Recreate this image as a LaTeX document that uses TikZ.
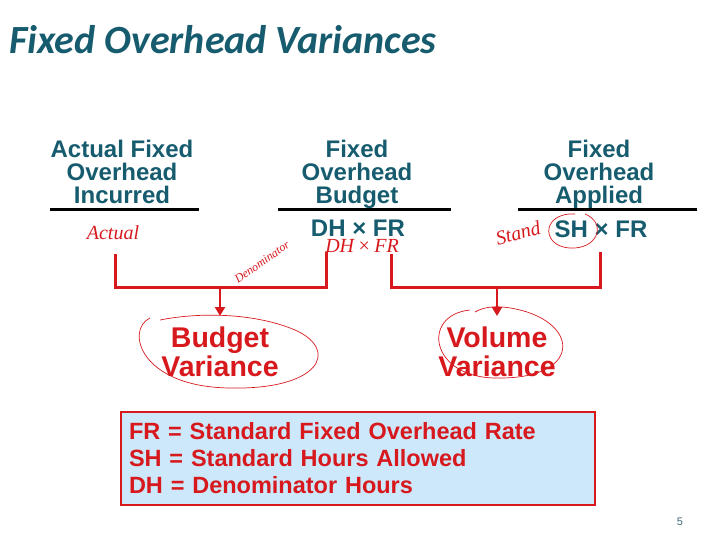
\documentclass[tikz,border=0pt]{standalone}
\usepackage{fontspec}
\setmainfont{Liberation Sans}
\newfontfamily\titlefont{Carlito}
\newfontfamily\handfont{Liberation Serif}
\usetikzlibrary{arrows.meta}
\definecolor{teal1}{RGB}{22,92,110}
\definecolor{redA}{RGB}{215,25,30}
\definecolor{boxblue}{RGB}{204,232,250}
\begin{document}
\begin{tikzpicture}[x=1pt,y=-1pt,
  head/.style={text=teal1, font=\bfseries\fontsize{24}{23}\selectfont, align=center, inner sep=0},
  rulebar/.style={line width=3pt},
  redline/.style={draw=redA, line width=3pt},
  redarrow/.style={draw=redA, line width=2.5pt, -{Triangle[length=9pt,width=10pt]}},
  varlabel/.style={text=redA, font=\bfseries\fontsize{28.5}{29.5}\selectfont, align=center, inner sep=0},
  scrib/.style={draw=redA, line width=0.7pt},
  hand/.style={text=redA, font=\handfont\itshape\fontsize{20}{20}\selectfont, inner sep=0}]
\useasboundingbox (0,0) rectangle (720,540);
% title
\node[anchor=base west, text=teal1, font=\titlefont\bfseries\itshape\fontsize{40}{40}\selectfont, inner sep=0] (title) at (9,54) {Fixed Overhead Variances};
% column headings
\node[head, anchor=north] (c1) at (122,139.5) {Actual Fixed\\Overhead\\Incurred};
\node[head, anchor=north] (c2) at (357,139.5) {Fixed\\Overhead\\Budget};
\node[head, anchor=north] (c3) at (599,139.5) {Fixed\\Overhead\\Applied};
\draw[rulebar] (50,210) -- (199,210);
\draw[rulebar] (278,210) -- (451,210);
\draw[rulebar] (518,210) -- (697,210);
\node[head] (f2) at (358,228) {DH × FR};
\node[head] (f3) at (601,229) {SH × FR};
% brackets
\coordinate (a1) at (115,254);
\coordinate (a2) at (326,252);
\coordinate (b1) at (391,254);
\coordinate (b2) at (600,252);
\coordinate (ja) at (220,287);
\coordinate (jb) at (497,287);
\coordinate (ea) at (220,316);
\coordinate (eb) at (497,316);
\draw[redline] (a1) |- (ja) -| (a2);
\draw[redline] (b1) |- (jb) -| (b2);
% variance labels
\node[varlabel] (bv) at (220,352) {Budget\\Variance};
\node[varlabel] (vv) at (497,352) {Volume\\Variance};
\draw[redarrow] (ja) -- (ea);
\draw[redarrow] (jb) -- (eb);
% legend box
\node[draw=redA, line width=2pt, fill=boxblue, anchor=north west, text width=458pt, inner xsep=8pt, minimum height=93pt, align=left, text=redA, font=\bfseries\fontsize{23.5}{27}\selectfont] (legend) at (120,411) {FR = Standard Fixed Overhead Rate\\SH = Standard Hours Allowed\\DH = Denominator Hours};
% page number
\node[text=teal1!60!gray, font=\fontsize{11}{11}\selectfont, inner sep=0] (pg) at (680,522) {5};
% handwritten annotations
\node[hand] (h1) at (113,233) {Actual};
\node[hand] (h2) at (362,246) {DH\,×\,FR};
\node[hand, rotate=15] (h3) at (518,233) {Stand};
\node[hand, rotate=35, font=\handfont\itshape\fontsize{12}{12}\selectfont] (h4) at (262,262) {Denominator};
\draw[scrib] (150,318) .. controls (125,330) and (140,387) .. (230,388) .. controls (320,390) and (340,350) .. (295,330) .. controls (255,313) and (200,312) .. (160,320);
\draw[scrib] (470,310) .. controls (420,315) and (430,380) .. (500,378) .. controls (580,378) and (580,325) .. (520,310) .. controls (500,305) and (485,306) .. (475,312);
\draw[scrib] (575,214) .. controls (540,212) and (540,250) .. (575,248) .. controls (600,246) and (605,222) .. (585,214);
\end{tikzpicture}
\end{document}
